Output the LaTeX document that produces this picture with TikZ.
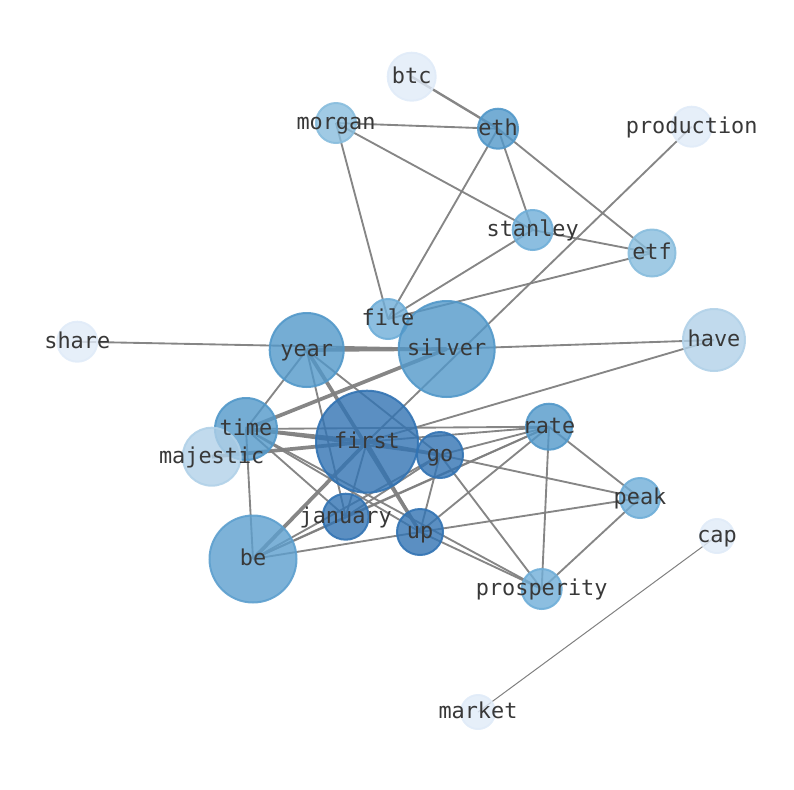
\documentclass[tikz,border=0pt]{standalone}
\usepackage{fontspec}
\setmonofont{DejaVu Sans Mono}
\begin{document}
\begin{tikzpicture}[x=0.75pt,y=-0.75pt,
  edge/.style={draw=black!50,line width=1.4pt,opacity=0.95},
  thick edge/.style={draw=black!50,line width=2.8pt,opacity=0.95},
  thin edge/.style={draw=black!50,line width=0.75pt},
  lbl/.style={font=\ttfamily\fontsize{16.4}{18}\selectfont,text=black!78,inner sep=0pt,text height=0.72em,text depth=0.22em,yshift=-2.7pt},
  vnode/.style 2 args={circle,inner sep=0pt,minimum size=#2*1.5pt,fill=#1,draw=#1,fill opacity=0.8,draw opacity=0.9,line width=1.5pt,text opacity=1}]
\definecolor{cA}{RGB}{50,115,179}
\definecolor{cB}{RGB}{82,152,201}
\definecolor{cC}{RGB}{93,159,206}
\definecolor{cD}{RGB}{111,174,216}
\definecolor{cE}{RGB}{136,189,221}
\definecolor{cF}{RGB}{177,209,232}
\definecolor{cG}{RGB}{224,235,248}
\useasboundingbox (0,0) rectangle (794,790);
% nodes (positions)
\coordinate (btc) at (411.7,76.7);
\coordinate (morgan) at (336,123);
\coordinate (eth) at (498,128.7);
\coordinate (production) at (691.7,126.7);
\coordinate (stanley) at (532.7,230);
\coordinate (etf) at (652,253);
\coordinate (file) at (388,319);
\coordinate (share) at (77.3,341.7);
\coordinate (year) at (306.7,350);
\coordinate (silver) at (446.7,349);
\coordinate (have) at (714,340);
\coordinate (time) at (246,429);
\coordinate (majestic) at (211.7,456.7);
\coordinate (first) at (367,441.7);
\coordinate (go) at (440,455);
\coordinate (rate) at (549,426.7);
\coordinate (peak) at (640,498);
\coordinate (january) at (345.7,516.7);
\coordinate (up) at (420,532);
\coordinate (be) at (253,559);
\coordinate (prosperity) at (541.7,589);
\coordinate (cap) at (717,536);
\coordinate (market) at (478,712);
% edges
\draw[edge,line width=1.8pt] (btc) -- (eth);
\draw[edge] (morgan) -- (eth);
\draw[edge] (morgan) -- (stanley);
\draw[edge] (morgan) -- (file);
\draw[edge] (eth) -- (stanley);
\draw[edge] (eth) -- (etf);
\draw[edge] (eth) -- (file);
\draw[edge] (stanley) -- (etf);
\draw[edge] (stanley) -- (file);
\draw[edge] (etf) -- (file);
\draw[edge] (production) -- (first);
\draw[edge] (share) -- (silver);
\draw[thick edge] (year) -- (silver);
\draw[edge] (silver) -- (have);
\draw[edge] (have) -- (first);
\draw[edge] (year) -- (time);
\draw[edge] (year) -- (january);
\draw[thick edge] (year) -- (up);
\draw[edge] (year) -- (go);
\draw[thick edge] (time) -- (first);
\draw[thick edge] (time) -- (silver);
\draw[edge] (time) -- (go);
\draw[edge] (time) -- (rate);
\draw[edge] (time) -- (be);
\draw[edge] (time) -- (january);
\draw[edge] (time) -- (up);
\draw[edge] (time) -- (prosperity);
\draw[thick edge] (majestic) -- (first);
\draw[thick edge] (first) -- (go);
\draw[edge] (first) -- (rate);
\draw[thick edge] (first) -- (be);
\draw[edge] (first) -- (january);
\draw[edge] (first) -- (up);
\draw[edge] (go) -- (rate);
\draw[edge] (go) -- (peak);
\draw[edge] (go) -- (prosperity);
\draw[edge] (go) -- (up);
\draw[edge] (go) -- (january);
\draw[edge] (rate) -- (peak);
\draw[edge] (rate) -- (prosperity);
\draw[edge] (rate) -- (up);
\draw[edge] (rate) -- (january);
\draw[edge] (rate) -- (be);
\draw[edge] (peak) -- (up);
\draw[edge] (peak) -- (prosperity);
\draw[edge] (up) -- (prosperity);
\draw[edge] (up) -- (be);
\draw[edge] (january) -- (be);
\draw[edge] (go) -- (be);
\draw[thin edge] (cap) -- (market);
% node discs
\foreach \n/\c/\r in {btc/cG/24,morgan/cE/20,eth/cB/20,production/cG/20,stanley/cD/20,etf/cE/23.5,file/cD/20,share/cG/20,year/cB/37,silver/cB/48,have/cF/31,time/cB/31,majestic/cF/29,first/cA/51,go/cA/23,rate/cB/23,peak/cD/20,january/cA/23,up/cA/23,be/cC/43.5,prosperity/cD/20,cap/cG/17,market/cG/17}
  \node[vnode={\c}{\r}] (\n-disc) at (\n) {};
% labels
\foreach \n in {btc,morgan,eth,production,stanley,etf,file,share,year,silver,have,time,majestic,first,go,rate,peak,january,up,be,prosperity,cap,market}
  \node[lbl] (\n-label) at (\n) {\n};
\end{tikzpicture}
\end{document}
